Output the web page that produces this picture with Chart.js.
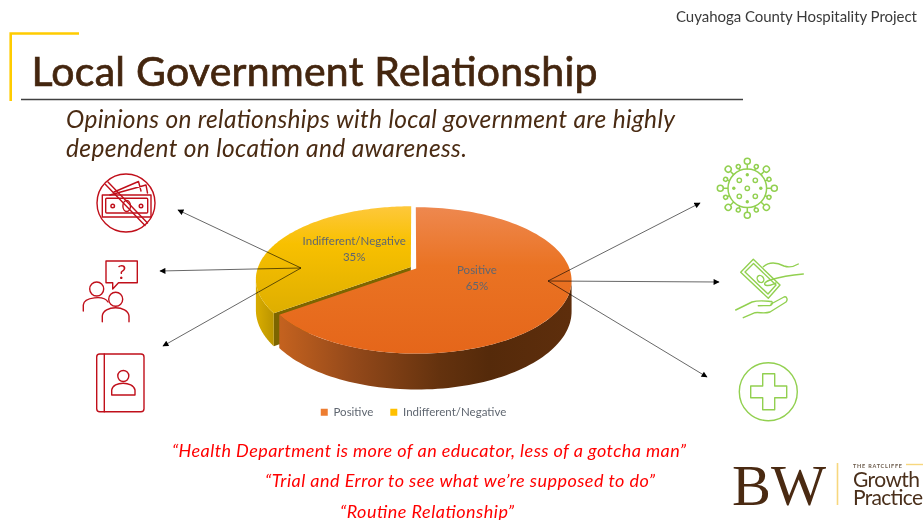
<!DOCTYPE html>
<html><head><meta charset="utf-8">
<script src="https://cdn.jsdelivr.net/npm/chart.js@4/dist/chart.umd.min.js"></script>
<style>
html,body{margin:0;padding:0;background:#fff;width:923px;height:520px;overflow:hidden}
canvas{position:absolute;left:0;top:0}
svg{position:absolute;left:0;top:0}
text{font-family:Lato,sans-serif}
</style></head><body>
<canvas id="c" width="923" height="520"></canvas>
<svg width="923" height="520" viewBox="0 0 923 520" xmlns="http://www.w3.org/2000/svg">
<defs>
<marker id="ah" viewBox="0 0 10 10" refX="9" refY="5" markerUnits="userSpaceOnUse" markerWidth="7" markerHeight="6" orient="auto"><path d="M0 0L10 5L0 10z" fill="#000"/></marker>
<g id="sl"><line x1="0" y1="-19" x2="0" y2="-24" stroke="#92d050" stroke-width="1.5"/><circle cx="0" cy="-27" r="3" fill="none" stroke="#92d050" stroke-width="1.5"/></g>
<g id="ss"><line x1="0" y1="-19" x2="0" y2="-21.5" stroke="#92d050" stroke-width="1.5"/><circle cx="0" cy="-23.5" r="2" fill="none" stroke="#92d050" stroke-width="1.5"/></g>
</defs>
<text x="676" y="22" font-size="15" fill="#3a3a3a" textLength="241" lengthAdjust="spacing">Cuyahoga County Hospitality Project</text>
<path d="M79 33.5H10.7V101" fill="none" stroke="#ffcc00" stroke-width="2.6"/>
<line x1="21" y1="99.5" x2="743" y2="99.5" stroke="#404040" stroke-width="1.7"/>
<text x="31.5" y="86" font-size="41" fill="#44260f" stroke="#44260f" stroke-width="0.7" textLength="566" lengthAdjust="spacing">Local Government Relationship</text>
<text x="66" y="128" font-size="24.5" font-style="italic" fill="#4a2b13" textLength="609" lengthAdjust="spacing">Opinions on relationships with local government are highly</text>
<text x="66" y="157" font-size="24.5" font-style="italic" fill="#4a2b13" textLength="401" lengthAdjust="spacing">dependent on location and awareness.</text>

<g stroke="#000" stroke-width="0.6" fill="none">
<line x1="301" y1="268" x2="178" y2="210" marker-end="url(#ah)"/>
<line x1="301" y1="268" x2="160" y2="271" marker-end="url(#ah)"/>
<line x1="301" y1="268" x2="163" y2="346" marker-end="url(#ah)"/>
<line x1="548" y1="281" x2="700" y2="203" marker-end="url(#ah)"/>
<line x1="548" y1="281" x2="719" y2="282" marker-end="url(#ah)"/>
<line x1="548" y1="281" x2="707" y2="377" marker-end="url(#ah)"/>
</g>

<g fill="none" stroke="#c00f1a" stroke-width="1.4" stroke-linejoin="round" stroke-linecap="round">
<circle cx="126" cy="203" r="29"/>
<rect x="102.3" y="195" width="48.7" height="22"/>
<rect x="105.7" y="198.3" width="42" height="14.7" rx="1"/>
<ellipse cx="126.7" cy="206" rx="3.8" ry="5.5"/>
<circle cx="112.7" cy="206" r="1.8"/><circle cx="141" cy="206" r="1.8"/>
<path d="M114 192L138.5 181.5L141 191M110 195L146 185L147.5 193"/>
<path d="M105.5 184.5L145 225.5M108 182L147.5 223"/>
<path d="M106 261H137.3V282.7H118.5L112.7 289V282.7H106Z"/>
<circle cx="96.7" cy="289" r="7"/>
<path d="M83.3 311V305C84 297 104 295 108 302"/>
<circle cx="115.7" cy="299.3" r="7"/>
<path d="M102.3 321.7V316C103 305 128 305 129 316V321.7"/>
<rect x="96.7" y="354" width="47.3" height="57.7" rx="3"/>
<line x1="104.3" y1="354" x2="104.3" y2="411.7"/>
<circle cx="123.3" cy="376" r="5.5"/>
<path d="M111.7 395V390C113 381 133 381 135 390V395Z"/>
</g>
<text x="121.7" y="279" font-size="20" text-anchor="middle" fill="#c00f1a">?</text>

<g transform="translate(747.3 188.3)">
<circle r="19.3" fill="none" stroke="#92d050" stroke-width="1.5"/>
<use href="#sl"/><use href="#sl" transform="rotate(45)"/><use href="#sl" transform="rotate(90)"/><use href="#sl" transform="rotate(135)"/><use href="#sl" transform="rotate(180)"/><use href="#sl" transform="rotate(225)"/><use href="#sl" transform="rotate(270)"/><use href="#sl" transform="rotate(315)"/>
<use href="#ss" transform="rotate(22.5)"/><use href="#ss" transform="rotate(67.5)"/><use href="#ss" transform="rotate(112.5)"/><use href="#ss" transform="rotate(157.5)"/><use href="#ss" transform="rotate(202.5)"/><use href="#ss" transform="rotate(247.5)"/><use href="#ss" transform="rotate(292.5)"/><use href="#ss" transform="rotate(337.5)"/>
<g fill="none" stroke="#92d050" stroke-width="1.4"><circle r="2.2"/><circle cx="-8" cy="-8" r="2.2"/><circle cx="8" cy="-8" r="2.2"/><circle cx="-8" cy="8" r="2.2"/><circle cx="8" cy="8" r="2.2"/></g>
<g fill="#92d050"><circle cy="-13.5" r="1.7"/><circle cy="13.5" r="1.7"/><circle cx="-13.5" r="1.7"/><circle cx="13.5" r="1.7"/></g>
</g>
<g fill="none" stroke="#92d050" stroke-width="1.4" stroke-linejoin="round" stroke-linecap="round">
<path d="M753.3 259.3L780 285L768.3 298.3L740.7 272.3Z"/>
<path d="M753.5 263.5L776 285L768 294L745 272Z"/>
<ellipse cx="760.5" cy="279" rx="3" ry="3.8" transform="rotate(-40 760.5 279)"/>
<path d="M763.3 266.7C770 261 778 263 784 266C790 268 795 266 798.3 264"/>
<path d="M803.3 274C792 275 780 277 770 280C764 282 763 285 767 285.5C770 286 773 284 776 283"/>
<path d="M735.7 310L752 302C759 300 765 301 771.7 301.5C773 303 772 305 770 305.5L758.3 305.7"/>
<path d="M771 304L784 297C787 296 788 300 786 302L770 312C764 314 760 312 755 312.7L743.3 317.7"/>
<circle cx="768.3" cy="391.7" r="29"/>
<path d="M762.7 373.7H774.7V386H786.7V397.7H774.7V409.7H762.7V397.7H750.7V386H762.7Z"/>
</g>

<g font-size="18" font-style="italic" fill="#ff0000">
<text x="172" y="457" textLength="514" lengthAdjust="spacing">“Health Department is more of an educator, less of a gotcha man”</text>
<text x="265" y="487" textLength="390" lengthAdjust="spacing">“Trial and Error to see what we’re supposed to do”</text>
<text x="340" y="518" textLength="174" lengthAdjust="spacing">“Routine Relationship”</text>
</g>

<text x="732" y="505" font-size="56" style="font-family:'Liberation Serif',serif" fill="#4a2a12" textLength="94" lengthAdjust="spacingAndGlyphs">BW</text>
<line x1="837.5" y1="463" x2="837.5" y2="505" stroke="#f7d77e" stroke-width="1.6"/>
<text x="853" y="467.5" font-size="5.5" font-weight="700" fill="#6b5a4a" textLength="49" lengthAdjust="spacing">THE RATCLIFFE</text>
<line x1="906" y1="464.5" x2="923" y2="464.5" stroke="#f7d77e" stroke-width="1.4"/>
<text x="853" y="487" font-size="21" fill="#4a2f1b" textLength="67" lengthAdjust="spacing">Growth</text>
<text x="853" y="505" font-size="21" fill="#4a2f1b" textLength="70" lengthAdjust="spacing">Practice</text>
</svg>
<script>
const categories = ["Positive", "Indifferent/Negative"];
const shares = [65, 35];
const percentLabels = ["65%", "35%"];
const sliceColors = ["#ed7d31", "#ffc000"];

const P = 0.164, SQUASH = 71 / 153, DEPTH = 30;
function project(arc, angle, frac, dy) {
  const mid = (arc.startAngle + arc.endAngle) / 2, off = arc.options.offset || 0, R = arc.outerRadius;
  const ux = frac * Math.cos(angle) + off / R * Math.cos(mid);
  const uy = frac * Math.sin(angle) + off / R * Math.sin(mid);
  const k = 1 / (1 - P * uy);
  return { x: arc.x + R * ux * k, y: arc.y + R * SQUASH * uy * k + (dy || 0) * k };
}
function vGrad(ctx, y0, y1, stops) {
  const g = ctx.createLinearGradient(0, y0, 0, y1);
  stops.forEach(s => g.addColorStop(s[0], s[1])); return g;
}
function hGrad(ctx, x0, x1, stops) {
  const g = ctx.createLinearGradient(x0, 0, x1, 0);
  stops.forEach(s => g.addColorStop(s[0], s[1])); return g;
}
function rimPath(ctx, arc, a0, a1) {
  const n = 80; ctx.beginPath();
  for (let i = 0; i <= n; i++) { const p = project(arc, a0 + (a1 - a0) * i / n, 1, 0); i ? ctx.lineTo(p.x, p.y) : ctx.moveTo(p.x, p.y); }
  for (let i = n; i >= 0; i--) { const p = project(arc, a0 + (a1 - a0) * i / n, 1, DEPTH); ctx.lineTo(p.x, p.y); }
  ctx.closePath();
}
function topPath(ctx, arc) {
  const n = 120; ctx.beginPath();
  const c = project(arc, 0, 0, 0); ctx.moveTo(c.x, c.y);
  for (let i = 0; i <= n; i++) { const p = project(arc, arc.startAngle + (arc.endAngle - arc.startAngle) * i / n, 1, 0); ctx.lineTo(p.x, p.y); }
  ctx.closePath();
}
const pie3d = {
  id: "pie3d",
  beforeDatasetDraw(chart) {
    const ctx = chart.ctx, arcs = chart.getDatasetMeta(0).data, o = arcs[0], y = arcs[1];
    ctx.save();
    const a = project(y, 0, 0, 0), b = project(y, y.startAngle, 1, 0), b2 = project(y, y.startAngle, 1, DEPTH), a2 = project(y, 0, 0, DEPTH);
    ctx.beginPath(); ctx.moveTo(a.x, a.y); ctx.lineTo(b.x, b.y); ctx.lineTo(b2.x, b2.y); ctx.lineTo(a2.x, a2.y); ctx.closePath();
    ctx.fillStyle = "#7d6500"; ctx.fill();
    rimPath(ctx, y, y.startAngle, Math.PI * 0.948);
    ctx.fillStyle = hGrad(ctx, 258, 280, [[0, "#d6aa00"], [1, "#b08c00"]]); ctx.fill();
    topPath(ctx, y);
    ctx.fillStyle = vGrad(ctx, 206, 314, [[0, "#fec83c"], [0.35, "#f8c000"], [1, "#deae00"]]); ctx.fill();
    rimPath(ctx, o, 0.052 * Math.PI, o.endAngle);
    ctx.fillStyle = hGrad(ctx, 280, 570, [[0, "#c4621f"], [0.25, "#94491a"], [0.55, "#64320e"], [0.72, "#552a0a"], [1, "#5e2e0c"]]); ctx.fill();
    topPath(ctx, o);
    ctx.fillStyle = vGrad(ctx, 207, 354, [[0, "#ee884f"], [0.4, "#ea7323"], [1, "#e5661a"]]); ctx.fill();
    ctx.fillStyle = "#5f6670"; ctx.font = "11.5px Lato"; ctx.textAlign = "center"; ctx.textBaseline = "middle";
    arcs.forEach((arc, i) => {
      const p = project(arc, (arc.startAngle + arc.endAngle) / 2, 0.43, 0);
      ctx.fillText(categories[i], p.x, p.y - 12);
      ctx.fillText(percentLabels[i], p.x, p.y + 4);
    });
    ctx.restore();
    return false;
  }
};
new Chart(document.getElementById("c"), {
  type: "pie",
  plugins: [pie3d],
  data: { labels: categories, datasets: [{ data: shares, backgroundColor: sliceColors, borderWidth: 0, offset: 3, radius: 153 }] },
  options: {
    responsive: false, animation: false,
    layout: { padding: { top: 146, bottom: 92, right: 96, left: 0 } },
    plugins: {
      tooltip: { enabled: false },
      legend: { display: true, position: "bottom",
        labels: { boxWidth: 7, boxHeight: 7, padding: 17, color: "#5f6670", font: { family: "Lato", size: 11.5 } } }
    }
  }
});
</script>
</body></html>
